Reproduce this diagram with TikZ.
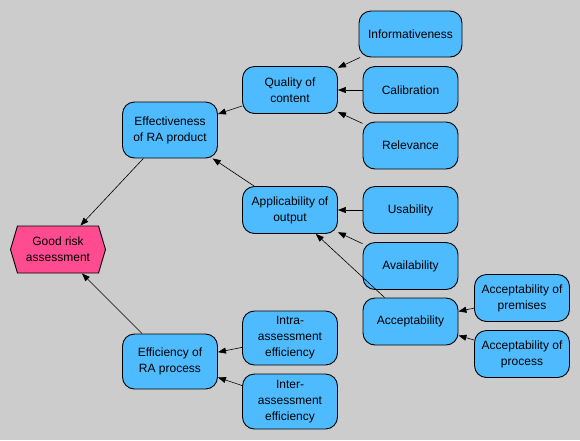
\documentclass[tikz,border=0pt]{standalone}
\usepackage{fontspec}
\setmainfont{Liberation Sans}
\usetikzlibrary{arrows.meta,shapes.symbols}
\definecolor{bggrey}{RGB}{204,204,204}
\definecolor{nodeblue}{RGB}{79,187,255}
\definecolor{goalpink}{RGB}{255,76,145}
\begin{document}
\begin{tikzpicture}[x=1pt,y=-1pt,
  box/.style={draw=black, line width=0.9pt, fill=nodeblue, rounded corners=12pt,
    minimum width=95pt, minimum height=47pt, align=center, inner sep=0pt,
    font=\fontsize{12}{16}\selectfont},
  goal/.style={signal, signal to=east and west, signal pointer angle=147,
    draw=black, line width=0.9pt, fill=goalpink, minimum width=95pt, minimum height=47pt,
    align=center, inner sep=0pt, font=\fontsize{12}{16}\selectfont},
  link/.style={-{Triangle[length=8pt,width=6pt]}, line width=0.6pt}
]
\fill[bggrey] (0,0) rectangle (580,440);
\useasboundingbox (0,0) rectangle (580,440);

\node[goal] (g) at (58,249.5) {Good risk\\assessment};
\node[box, minimum height=56pt] (eff) at (170,130) {Effectiveness\\of RA product};
\node[box] (qual) at (290,90) {Quality of\\content};
\node[box, minimum width=103pt, minimum height=46pt] (inf) at (410.5,34) {Informativeness};
\node[box] (cal) at (410.5,90) {Calibration};
\node[box] (rel) at (410.5,145.5) {Relevance};
\node[box] (app) at (290,210) {Applicability of\\output};
\node[box] (usa) at (410.5,210) {Usability};
\node[box] (ava) at (410.5,266) {Availability};
\node[box] (acc) at (410.5,321.5) {Acceptability};
\node[box] (prem) at (522,298) {Acceptability of\\premises};
\node[box] (proc) at (522,354) {Acceptability of\\process};
\node[box, minimum height=54pt] (intra) at (290,338) {Intra-\\assessment\\efficiency};
\node[box, minimum height=55pt] (inter) at (290,401.5) {Inter-\\assessment\\efficiency};
\node[box, minimum height=55pt] (effi) at (170,361.5) {Efficiency of\\RA process};

\draw[link] (eff) -- (g);
\draw[link] (effi) -- (g);
\draw[link] (qual) -- (eff);
\draw[link] (app) -- (eff);
\draw[link] (inf) -- (qual);
\draw[link] (cal) -- (qual);
\draw[link] (rel) -- (qual);
\draw[link] (usa) -- (app);
\draw[link] (ava) -- (app);
\draw[link] (acc) -- (app);
\draw[link] (prem) -- (acc);
\draw[link] (proc) -- (acc);
\draw[link] (intra) -- (effi);
\draw[link] (inter) -- (effi);
\end{tikzpicture}
\end{document}
